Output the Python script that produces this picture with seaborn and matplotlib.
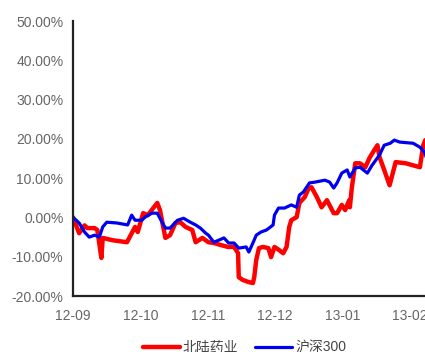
import matplotlib
matplotlib.use("Agg")
import matplotlib.pyplot as plt
import seaborn as sns
from matplotlib.ticker import FuncFormatter

# x in months since 12-09 (one unit = one month), y in percent
red_x = [0, 0.09, 0.17, 0.21, 0.32, 0.36, 0.42, 0.44, 0.59, 0.80, 0.84, 0.92, 0.96,
         1.04, 1.11, 1.19, 1.25, 1.29, 1.37, 1.44, 1.52, 1.59, 1.67, 1.77, 1.82, 1.92,
         2.01, 2.09, 2.19, 2.30, 2.39, 2.45, 2.46, 2.52, 2.60, 2.67, 2.69, 2.72, 2.76,
         2.82, 2.90, 2.94, 2.99, 3.06, 3.12, 3.17, 3.21, 3.24, 3.32, 3.36, 3.44, 3.50,
         3.54, 3.62, 3.69, 3.77, 3.87, 3.92, 3.99, 4.04, 4.10, 4.11, 4.14, 4.19, 4.26,
         4.34, 4.40, 4.47, 4.52, 4.55, 4.62, 4.70, 4.79, 4.94, 5.15, 5.20, 5.23, 5.27]
red_y = [0, -4.0, -2.0, -2.7, -2.7, -3.2, -10.3, -5.2, -5.8, -6.3, -5.0, -2.4, -3.7,
         1.1, 0.6, 2.4, 3.7, 1.9, -5.2, -4.5, -1.4, -1.2, -2.4, -3.2, -6.3, -5.2,
         -6.3, -6.5, -7.0, -7.5, -7.5, -9.1, -15.2, -15.9, -16.4, -16.7, -15.2, -10.8, -7.8,
         -7.5, -7.8, -10.1, -7.5, -8.3, -9.1, -7.5, -2.4, -0.7, 0.1, 3.7, 5.2, 7.5,
         7.7, 5.2, 2.6, 4.4, 1.1, 1.1, 3.2, 1.9, 4.4, 2.6, 7.7, 13.8, 13.8,
         12.8, 15.1, 17.1, 18.4, 15.4, 12.1, 8.2, 14.1, 13.8, 12.8, 18.4, 19.7, 16.0]

blue_x = [0, 0.09, 0.17, 0.24, 0.32, 0.39, 0.44, 0.50, 0.65, 0.81, 0.87, 0.92, 1.02,
          1.07, 1.17, 1.25, 1.29, 1.37, 1.44, 1.55, 1.64, 1.74, 1.82, 1.89, 1.97, 2.01,
          2.09, 2.16, 2.24, 2.31, 2.39, 2.46, 2.57, 2.61, 2.67, 2.72, 2.79, 2.87, 2.91,
          2.97, 2.99, 3.05, 3.14, 3.24, 3.32, 3.36, 3.42, 3.51, 3.59, 3.74, 3.81, 3.87,
          3.92, 3.99, 4.07, 4.11, 4.19, 4.26, 4.37, 4.44, 4.55, 4.62, 4.71, 4.77, 4.85,
          5.05, 5.15, 5.23, 5.27]
blue_y = [0, -1.4, -3.7, -5.0, -4.5, -5.0, -2.4, -1.2, -1.4, -1.9, 0.6, -0.7, -0.7,
          0.1, 1.1, 1.1, -0.2, -2.7, -2.7, -0.7, -0.2, -1.2, -1.9, -2.7, -4.0, -4.5,
          -6.3, -5.8, -5.2, -6.5, -6.5, -7.8, -7.5, -8.8, -6.5, -4.5, -3.7, -3.2, -2.7,
          -1.9, 0.6, 2.4, 2.4, 3.2, 2.6, 5.7, 6.5, 8.8, 9.0, 9.5, 9.0, 7.5,
          8.8, 11.3, 12.1, 10.3, 12.6, 12.8, 11.3, 13.3, 15.9, 18.4, 18.9, 19.7, 19.2,
          18.9, 17.9, 16.4, 12.8]

month_ticks = [0, 1, 2, 3, 4, 5]
month_labels = ["12-09", "12-10", "12-11", "12-12", "13-01", "13-02"]
y_ticks = [-20, -10, 0, 10, 20, 30, 40, 50]

sns.set_theme(style="white")
plt.rcParams["font.family"] = ["Liberation Sans", "Noto Sans CJK SC", "DejaVu Sans"]

fig = plt.figure(figsize=(4.25, 3.52), dpi=100)
ax = fig.add_axes([0.172, 0.159, 0.835, 0.781])

sns.lineplot(x=red_x, y=red_y, ax=ax, color="#ff0000", linewidth=3.2,
             estimator=None, sort=False, label="北陆药业",
             solid_joinstyle="round", solid_capstyle="round")
sns.lineplot(x=blue_x, y=blue_y, ax=ax, color="#0000f0", linewidth=2.3,
             estimator=None, sort=False, label="沪深300",
             solid_joinstyle="round", solid_capstyle="round")

ax.set_xlim(0, 5.27)
ax.set_ylim(-20, 50)
ax.set_xticks(month_ticks)
ax.set_xticklabels(month_labels)
ax.set_yticks(y_ticks)
ax.yaxis.set_major_formatter(FuncFormatter(lambda v, _: f"{v:.2f}%"))
ax.set_xlabel("")
ax.set_ylabel("")

for side in ["top", "right"]:
    ax.spines[side].set_visible(False)
for side in ["left", "bottom"]:
    ax.spines[side].set_color("#222222")
    ax.spines[side].set_linewidth(1.6)
ax.tick_params(axis="both", which="major", direction="out", length=3, width=1.6,
               color="#222222", labelsize=10, labelcolor="#666666", pad=4)
ax.tick_params(axis="x", pad=6)
ax.grid(False)

ax.get_legend().remove()
handles, labels = ax.get_legend_handles_labels()
fig.legend(handles, labels, loc="center", bbox_to_anchor=(0.575, 0.012), ncol=2,
           frameon=False, fontsize=10, handlelength=2.7, handletextpad=0.2,
           columnspacing=1.2, labelcolor="#444444")

fig.savefig("out.png", dpi=100)
